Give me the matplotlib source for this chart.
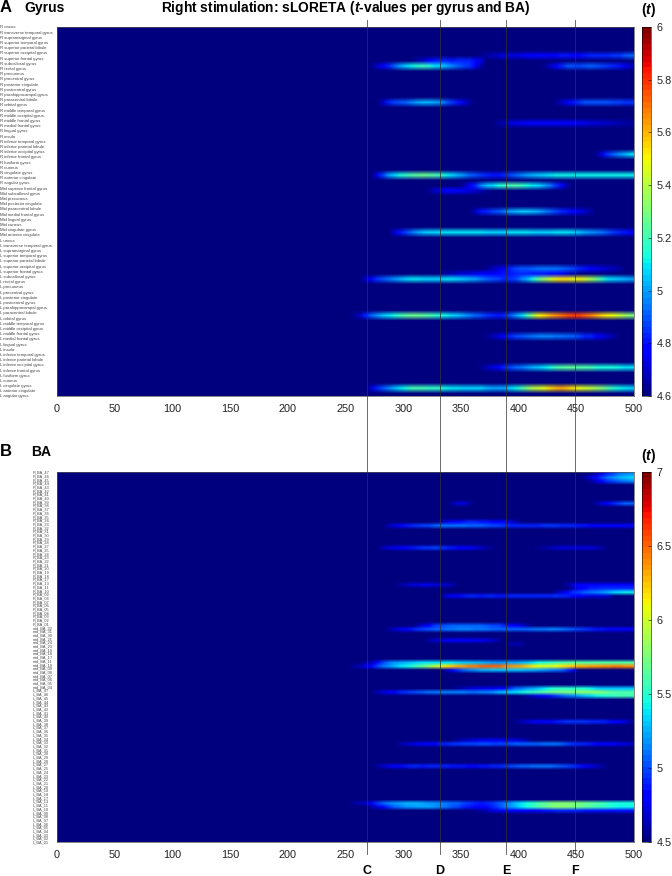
import matplotlib
matplotlib.use('Agg')
import matplotlib.pyplot as plt
import numpy as np
from matplotlib.lines import Line2D
from matplotlib.transforms import blended_transform_factory

plt.rcParams['font.family'] = ['Liberation Sans', 'DejaVu Sans']
plt.rcParams['mathtext.fontset'] = 'custom'
plt.rcParams['mathtext.bf'] = 'Liberation Sans:bold'
plt.rcParams['mathtext.bfit'] = 'Liberation Sans:italic:bold'

W, H = 672, 876

# labels
regions = ['uncus', 'transverse temporal gyrus', 'supramarginal gyrus', 'superior temporal gyrus',
           'superior parietal lobule', 'superior occipital gyrus', 'superior frontal gyrus', 'subcallosal gyrus',
           'rectal gyrus', 'precuneus', 'precentral gyrus', 'posterior cingulate', 'postcentral gyrus',
           'parahippocampal gyrus', 'paracentral lobule', 'orbital gyrus', 'middle temporal gyrus',
           'middle occipital gyrus', 'middle frontal gyrus', 'medial frontal gyrus', 'lingual gyrus', 'insula',
           'inferior temporal gyrus', 'inferior parietal lobule', 'inferior occipital gyrus', 'inferior frontal gyrus',
           'fusiform gyrus', 'cuneus', 'cingulate gyrus', 'anterior cingulate', 'angular gyrus']
mid_regions = ['superior frontal gyrus', 'subcallosal gyrus', 'precuneus', 'posterior cingulate', 'paracentral lobule',
               'medial frontal gyrus', 'lingual gyrus', 'cuneus', 'cingulate gyrus', 'anterior cingulate']
ba_side = [47, 46, 45, 44, 43, 42, 41, 40, 39, 38, 37, 36, 35, 34, 33, 32, 31, 30, 29, 28, 27, 25, 24, 23, 22, 21,
           20, 19, 18, 17, 13, 11, 10, 9, 8, 7, 6, 5, 4, 3, 2, 1]
ba_mid = [32, 31, 30, 25, 24, 23, 19, 18, 17, 11, 10, 9, 8, 7, 6, 5, 4]

gyrus_labels = ['R ' + r for r in regions] + ['Mid ' + r for r in mid_regions] + ['L ' + r for r in regions]
ba_labels = (['R_BA_%02d' % b for b in ba_side] + ['mid_BA_%02d' % b for b in ba_mid]
             + ['L_BA_%02d' % b for b in ba_side])

xticks_ms = [0, 50, 100, 150, 200, 250, 300, 350, 400, 450, 500]
gyrus_cticks = [4.6, 4.8, 5, 5.2, 5.4, 5.6, 5.8, 6]
ba_cticks = [4.5, 5, 5.5, 6, 6.5, 7]
marker_ms = [269, 332, 389, 449]
marker_names = ['C', 'D', 'E', 'F']

# panel A, t-values read every 5 ms from the colours
a_r5 = [4.62, 4.64, 4.66, 4.68, 4.7, 4.72, 4.73, 4.72, 4.74, 4.76, 4.78, 4.79, 4.78, 4.77, 4.78, 4.8, 4.8, 4.79, 4.78,
        4.8, 4.82, 4.82, 4.83, 4.84, 4.85, 4.86, 4.9, 4.92]
a_r6 = [4.62, 4.66, 4.7, 4.76, 4.8, 4.82, 4.82, 4.8, 4.82, 4.83, 4.82, 4.78, 4.72]
a_r7 = [4.64, 4.7, 4.76, 4.84, 4.92, 5.0, 5.06, 5.12, 5.16, 5.18, 5.16, 5.1, 5.08, 5.02, 4.96, 4.92, 4.88, 4.86, 4.76,
        4.66]
a_r7b = [4.64, 4.7, 4.78, 4.84, 4.9, 4.9, 4.88, 4.9, 4.92, 4.9, 4.88, 4.86, 4.84, 4.8, 4.74, 4.7]
a_r14 = [4.7, 4.82, 4.88, 4.9, 4.92, 4.96, 5.0, 5.02, 5.02, 5.0, 4.98, 4.92, 4.86, 4.8, 4.74, 4.66]
a_r14b = [4.64, 4.7, 4.76, 4.8, 4.86, 4.9, 4.9, 4.9, 4.9, 4.9, 4.88, 4.88, 4.86, 4.86]
a_r18 = [4.62, 4.65, 4.68, 4.72, 4.74, 4.74, 4.76, 4.78, 4.78, 4.78, 4.78, 4.78, 4.78, 4.77, 4.76, 4.75, 4.74, 4.72,
         4.72, 4.7, 4.7, 4.68, 4.67, 4.66, 4.65]
a_r24 = [4.64, 4.75, 4.85, 4.92, 4.98, 5.02, 5.1]
a_r28 = [4.75, 4.88, 5.0, 5.08, 5.14, 5.18, 5.22, 5.25, 5.26, 5.25, 5.22, 5.18, 5.12, 5.08, 5.02, 4.98, 4.92, 4.9, 4.86,
         4.82, 4.8, 4.8, 4.84, 4.88, 4.92, 4.96, 5.0, 5.02, 5.05, 5.08, 5.1, 5.12, 5.12, 5.12, 5.12, 5.12, 5.12, 5.12,
         5.12, 5.12, 5.12, 5.12, 5.12, 5.12, 5.12]
a_r30 = [4.66, 4.76, 4.84, 4.96, 5.04, 5.08, 5.14, 5.18, 5.2, 5.22, 5.18, 5.14, 5.1, 5.06, 5.0, 4.94, 4.86, 4.76, 4.66]
a_r31 = [4.64, 4.7, 4.74, 4.76, 4.78, 4.76, 4.74, 4.72, 4.7, 4.68, 4.64]
a_r35 = [4.7, 4.8, 4.84, 4.88, 4.9, 4.94, 5.0, 5.02, 5.04, 5.04, 5.02, 5.0, 4.96, 4.92, 4.88, 4.84, 4.8, 4.78, 4.74, 4.7,
         4.66]
a_r39 = [4.72, 4.8, 4.88, 4.94, 5.0, 5.04, 5.06, 5.08, 5.1, 5.1, 5.1, 5.1, 5.1, 5.1, 5.1, 5.1, 5.08, 5.08, 5.08, 5.08,
         5.1, 5.1, 5.1, 5.1, 5.08, 5.08, 5.06, 5.06, 5.1, 5.1, 5.1, 5.08, 5.04, 5.0, 4.98, 4.96, 4.94, 4.9, 4.86, 4.82,
         4.8, 4.78]
a_r46 = [4.64, 4.68, 4.72, 4.74, 4.82, 4.88, 4.9, 4.9, 4.92, 4.94, 4.94, 4.94, 4.94, 4.92, 4.9, 4.88, 4.84, 4.8, 4.76,
         4.74, 4.72, 4.7, 4.68, 4.66]
a_r47 = [4.64, 4.66, 4.68, 4.7, 4.72, 4.72, 4.74, 4.76, 4.76, 4.76, 4.78, 4.8, 4.8, 4.82, 4.82, 4.82, 4.8, 4.8, 4.8,
         4.78, 4.76, 4.74, 4.7, 4.66]
a_r48 = [4.7, 4.78, 4.86, 4.9, 4.94, 4.98, 5.02, 5.06, 5.1, 5.1, 5.08, 5.06, 5.06, 5.08, 5.1, 5.1, 5.06, 5.04, 5.02, 5.0,
         4.96, 4.92, 4.9, 4.88, 4.84, 4.86, 4.88, 4.96, 5.02, 5.14, 5.26, 5.36, 5.44, 5.5, 5.54, 5.52, 5.48, 5.5, 5.44,
         5.38, 5.28, 5.18, 5.1, 5.06, 5.04, 5.02, 5.0]
a_r55 = [4.64, 4.7, 4.82, 4.92, 4.98, 5.04, 5.1, 5.14, 5.2, 5.24, 5.26, 5.26, 5.24, 5.22, 5.18, 5.14, 5.12, 5.08, 5.04,
         5.0, 4.96, 4.92, 4.9, 4.86, 4.82, 4.8, 4.84, 4.9, 4.98, 5.08, 5.2, 5.36, 5.5, 5.56, 5.62, 5.66, 5.7, 5.74, 5.78,
         5.76, 5.72, 5.68, 5.62, 5.56, 5.5, 5.48, 5.42, 5.36, 5.3]
a_r59 = [4.64, 4.68, 4.72, 4.76, 4.84, 4.88, 4.9, 4.92, 4.94, 4.96, 4.96, 4.96, 4.94, 4.94, 4.92, 4.92, 4.88, 4.84, 4.82,
         4.78, 4.74, 4.7, 4.66]
a_r65 = [4.64, 4.68, 4.72, 4.76, 4.84, 4.88, 4.92, 4.94, 4.98, 5.02, 5.04, 5.1, 5.14, 5.2, 5.22, 5.24, 5.24, 5.22, 5.22,
         5.2, 5.16, 5.14, 5.14, 5.14, 5.12, 5.1, 5.1]
a_r69 = [4.72, 4.82, 4.9, 4.96, 5.02, 5.1, 5.14, 5.2, 5.2, 5.2, 5.18, 5.18, 5.16, 5.12, 5.1, 5.1, 5.08, 5.08, 5.06, 5.06,
         5.02, 5.0, 5.0, 5.0, 5.06, 5.12, 5.2, 5.3, 5.4, 5.44, 5.48, 5.56, 5.6, 5.62, 5.58, 5.52, 5.48, 5.44, 5.42, 5.36,
         5.3, 5.22, 5.16, 5.12, 5.1, 5.06]

# panel B
b_r0 = [4.55, 4.65, 4.75, 4.9, 5.0, 5.1, 5.15, 5.2]
b_r1 = [4.6, 4.72, 4.85, 5.0, 5.1, 5.2, 5.25, 5.3, 5.35]
b_r2 = [4.55, 4.7, 4.8, 4.95, 5.0, 5.05, 5.1, 5.15]
b_r8a = [4.6, 4.7, 4.7, 4.6]
b_r8 = [4.6, 4.75, 4.8, 4.9, 5.0, 5.05, 5.05]
b_r13 = [4.62, 4.72, 4.8, 4.85, 4.88, 4.9, 4.9, 4.88, 4.86, 4.84, 4.8, 4.78, 4.72, 4.62]
b_r14 = [4.62, 4.72, 4.8, 4.88, 4.92, 4.96, 4.98, 5.0, 5.05, 5.1, 5.1, 5.1, 5.1, 5.1, 5.08, 5.06, 5.05, 5.02, 5.0, 4.98,
         4.95, 4.92, 4.9, 4.9, 4.9, 4.9, 4.92, 4.94, 4.95, 4.94, 4.92, 4.9, 4.9, 4.88, 4.86, 4.85, 4.85, 4.85, 4.85, 4.85,
         4.85, 4.85, 4.85]
b_r20 = [4.62, 4.7, 4.75, 4.78, 4.82, 4.86, 4.9, 4.94, 4.96, 4.98, 4.96, 4.92, 4.88, 4.84, 4.82, 4.78, 4.72, 4.66, 4.6,
         4.56]
b_r20a = [4.56, 4.6, 4.62, 4.66, 4.7, 4.72, 4.72, 4.72, 4.72, 4.7, 4.66, 4.6]
b_r30 = [4.58, 4.64, 4.7, 4.72, 4.74, 4.74, 4.72, 4.72, 4.68, 4.62]
b_r30a = [4.6, 4.7, 4.78, 4.82, 4.84, 4.85, 4.85, 4.85, 4.85, 4.85, 4.85, 4.85]
b_r31 = [4.65, 4.8, 4.85, 4.9, 4.92, 4.95, 4.95, 4.95, 4.95, 4.95, 4.95]
b_r32 = [4.6, 4.7, 4.85, 4.95, 5.0, 5.05, 5.1, 5.15, 5.2, 5.25, 5.35, 5.38, 5.4, 5.4]
b_r33 = [4.7, 4.8, 4.84, 4.88, 4.9, 4.9, 4.88, 4.9, 4.9, 4.86, 4.88, 4.9, 4.9, 4.9, 4.9, 4.9, 4.9, 4.92, 4.92, 4.94, 4.92,
         4.9, 4.85, 4.8, 4.75, 4.72, 4.72, 4.7, 4.68]
b_r41 = [4.6, 4.72, 4.85, 4.95, 5.0, 5.02, 5.05, 5.05, 5.05, 5.05, 5.05, 5.05, 5.02, 5.0, 4.98, 4.92, 4.85, 4.78, 4.7, 4.6]
b_r42 = [4.6, 4.68, 4.74, 4.82, 4.88, 4.94, 5.0, 5.04, 5.05, 5.08, 5.1, 5.12, 5.14, 5.14, 5.14, 5.12, 5.1, 5.1, 5.08, 5.06,
         5.06, 5.05, 5.05, 5.06, 5.08, 5.1, 5.12, 5.12, 5.14, 5.14, 5.1, 5.06, 5.02, 4.98, 4.94, 4.9, 4.88, 4.86, 4.84,
         4.82, 4.82, 4.8, 4.8]
b_r45 = [4.6, 4.68, 4.74, 4.76, 4.78, 4.8, 4.8, 4.78, 4.76, 4.74, 4.72, 4.68, 4.6]
b_r46 = [4.6, 4.62, 4.58]
b_r51 = [4.58, 4.65, 4.8, 5.0, 5.1, 5.18, 5.24, 5.28, 5.3, 5.34, 5.36, 5.38, 5.38, 5.38, 5.36, 5.36, 5.34, 5.32, 5.3, 5.28,
         5.26, 5.22, 5.2, 5.2, 5.2, 5.22, 5.24, 5.28, 5.32, 5.38, 5.44, 5.48, 5.52, 5.56, 5.6, 5.62, 5.64, 5.64, 5.62, 5.62,
         5.62, 5.62, 5.62, 5.6, 5.62, 5.62, 5.62]
b_r52 = [4.58, 4.65, 4.75, 4.85, 5.0, 5.1, 5.2, 5.28, 5.36, 5.42, 5.5, 5.6, 5.7, 5.8, 5.95, 6.05, 6.15, 6.25, 6.3, 6.35,
         6.42, 6.45, 6.5, 6.52, 6.52, 6.5, 6.45, 6.4, 6.35, 6.3, 6.22, 6.15, 6.1, 6.05, 6.05, 6.1, 6.15, 6.2, 6.25, 6.3, 6.3,
         6.35, 6.35, 6.38, 6.4, 6.42, 6.42, 6.4, 6.4]
b_r53 = [4.62, 4.78, 4.95, 5.05, 5.15, 5.2, 5.25, 5.28, 5.3, 5.32, 5.32, 5.3, 5.3, 5.3, 5.28, 5.26, 5.22, 5.2, 5.15, 5.1,
         5.05, 4.95, 4.75]
b_r58 = [4.6, 4.64, 4.68, 4.7, 4.72, 4.74, 4.76, 4.8, 4.85, 4.95, 5.05, 5.12, 5.18, 5.24, 5.3, 5.38, 5.45, 5.5, 5.55, 5.5,
         5.5, 5.48, 5.45, 5.4, 5.35, 5.3, 5.3, 5.3, 5.3, 5.3, 5.3]
b_r59 = [4.62, 4.7, 4.8, 4.85, 4.9, 4.94, 4.98, 5.02, 5.08, 5.1, 5.12, 5.14, 5.14, 5.14, 5.14, 5.14, 5.12, 5.12, 5.14, 5.16,
         5.2, 5.26, 5.3, 5.34, 5.38, 5.42, 5.5, 5.55, 5.6, 5.65, 5.7, 5.72, 5.74, 5.76, 5.78, 5.8, 5.82, 5.82, 5.8, 5.75, 5.7,
         5.65, 5.6, 5.6, 5.6]
b_r60 = [4.6, 4.68, 4.74, 4.8, 4.86, 4.95, 5.02, 5.1, 5.15, 5.22, 5.3, 5.35, 5.4, 5.45, 5.5, 5.55, 5.58, 5.58, 5.58]
b_r67 = [4.56, 4.62, 4.7, 4.75, 4.8, 4.82, 4.85, 4.88, 4.9, 4.94, 4.96, 4.94, 4.94, 4.92, 4.92, 4.9, 4.88, 4.84, 4.78, 4.7,
         4.6]
b_r72 = [4.58, 4.62, 4.68, 4.72, 4.75, 4.76, 4.76, 4.75, 4.74, 4.72, 4.7, 4.66, 4.6]
b_r73 = [4.6, 4.66, 4.7, 4.74, 4.78, 4.82, 4.84, 4.9, 4.92, 4.94, 4.96, 4.98, 4.98, 5.0, 5.02, 5.02, 5.0, 5.0, 5.0, 5.04,
         5.05, 5.06, 5.08, 5.08, 5.08, 5.1, 5.1, 5.1, 5.05, 5.0, 4.96, 4.92, 4.9, 4.88, 4.85, 4.82, 4.8, 4.78, 4.76, 4.72,
         4.66]
b_r79 = [4.58, 4.68, 4.74, 4.78, 4.84, 4.88, 4.9, 4.9, 4.88, 4.9, 4.92, 4.92, 4.9, 4.88, 4.88, 4.86, 4.84, 4.84, 4.86, 4.88,
         4.9, 4.92, 4.95, 4.98, 5.02, 5.05, 5.08, 5.1, 5.12, 5.12, 5.1, 5.06, 5.02, 4.98, 4.94, 4.88, 4.82, 4.74, 4.66, 4.6]
b_r89 = [4.58, 4.62, 4.68, 4.8, 4.95, 5.05, 5.15, 5.2, 5.22, 5.25, 5.25, 5.25, 5.24, 5.2, 5.18, 5.14, 5.12, 5.08, 5.05, 5.0,
         4.95, 4.9, 4.88, 4.9, 4.95, 5.02, 5.1, 5.18, 5.3, 5.38, 5.44, 5.5, 5.6, 5.66, 5.72, 5.76, 5.78, 5.78, 5.78, 5.74,
         5.7, 5.66, 5.6, 5.56, 5.5, 5.45, 5.44, 5.44, 5.44]
b_r90 = [4.6, 4.7, 4.85, 4.95, 5.05, 5.12, 5.18, 5.2, 5.22, 5.22, 5.22, 5.2, 5.15, 5.1, 5.04, 4.98, 4.92, 4.86, 4.82, 4.8,
         4.85, 4.92, 5.0, 5.1, 5.2, 5.28, 5.36, 5.44, 5.52, 5.6, 5.66, 5.72, 5.78, 5.78, 5.78, 5.72, 5.68, 5.64, 5.6, 5.56,
         5.52, 5.48, 5.44, 5.42, 5.42, 5.42]
b_r91 = [4.56, 4.6, 4.64, 4.7, 4.76, 4.82, 4.85, 4.85, 4.82, 4.84, 4.85, 4.85, 4.86, 4.88, 4.9, 4.92, 4.92, 4.92, 4.9, 4.88,
         4.86, 4.86, 4.86, 4.86, 4.86, 4.86, 4.86, 4.86]

# (row, first ms, values)
gyrus_bands = [(5, 360, a_r5), (6, 305, a_r6), (7, 270, a_r7), (7, 420, a_r7b), (14, 280, a_r14), (14, 430, a_r14b),
               (18, 375, a_r18), (24, 465, a_r24), (28, 275, a_r28), (30, 350, a_r30), (31, 320, a_r31),
               (35, 360, a_r35), (39, 290, a_r39), (46, 370, a_r46), (47, 330, a_r47), (48, 265, a_r48),
               (55, 255, a_r55), (59, 370, a_r59), (65, 365, a_r65), (69, 270, a_r69)]
ba_bands = [(0, 460, b_r0), (1, 455, b_r1), (2, 460, b_r2), (8, 340, b_r8a), (8, 465, b_r8), (13, 330, b_r13),
            (14, 285, b_r14), (20, 280, b_r20), (20, 415, b_r20a), (30, 295, b_r30), (30, 440, b_r30a),
            (31, 445, b_r31), (32, 430, b_r32), (33, 335, b_r33), (41, 310, b_r41), (42, 285, b_r42), (45, 320, b_r45),
            (46, 390, b_r46), (51, 265, b_r51), (52, 255, b_r52), (53, 335, b_r53), (58, 345, b_r58), (59, 275, b_r59),
            (60, 405, b_r60), (67, 395, b_r67), (72, 345, b_r72), (73, 295, b_r73), (79, 275, b_r79), (89, 255, b_r89),
            (90, 270, b_r90), (91, 360, b_r91)]


def px_axes(fig, left, top, right, bottom):
    return fig.add_axes([left / W, 1 - bottom / H, (right - left) / W, (bottom - top) / H])


def make_grid(n_rows, bands, low):
    grid = np.full((n_rows, 100), low, dtype=float)
    for row, start, values in bands:
        col = start // 5
        grid[row, col:col + len(values)] = values
    return grid


def heatmap(fig, top, bottom, labels, bands, low, high, cticks, label_left, label_size):
    ax = px_axes(fig, 57, top, 634, bottom)
    n_rows = len(labels) - 1  # last label has no row, as in pcolor
    grid = make_grid(n_rows, bands, low)
    # bilinear in rgba gives the soft edges of the scanned figure
    mesh = ax.imshow(grid, cmap=plt.get_cmap('jet', 64), vmin=low, vmax=high, aspect='auto',
                     extent=[0, 500, n_rows, 0], interpolation='bilinear', interpolation_stage='rgba')
    ax.set_xlim(0, 500)
    ax.set_ylim(n_rows, 0)
    ax.set_xticks(xticks_ms)
    ax.set_xticklabels([str(t) for t in xticks_ms], fontsize=7.8, color='#222222')
    ax.tick_params(axis='x', length=0, pad=6)
    ax.set_yticks(np.arange(len(labels)))
    ax.set_yticklabels(labels, fontsize=label_size, color='#444444', ha='left')
    ax.tick_params(axis='y', length=0, pad=(57 - label_left) * 0.72)
    for s in ax.spines.values():
        s.set_linewidth(0.5)
        s.set_color('#555555')

    cax = px_axes(fig, 642, top, 651, bottom)
    cb = fig.colorbar(mesh, cax=cax)
    cb.set_ticks(cticks)
    cb.set_ticklabels(['%g' % t for t in cticks], fontsize=7.8, color='#222222')
    cax.tick_params(axis='y', direction='in', length=2, width=0.4, pad=4, right=True)
    cb.outline.set_linewidth(0.4)
    return ax


fig = plt.figure(figsize=(W / 100, H / 100), dpi=100)

ax_a = heatmap(fig, 27, 396, gyrus_labels, gyrus_bands, 4.6, 6, gyrus_cticks, 0, 3.05)
ax_b = heatmap(fig, 472, 842, ba_labels, ba_bands, 4.5, 7, ba_cticks, 33, 2.8)


def fig_text(x, y, s, **kw):
    fig.text(x / W, 1 - y / H, s, va='center', **kw)


fig_text(0, 7, 'A', fontsize=12, fontweight='bold', ha='left')
fig_text(24, 8, 'Gyrus', fontsize=10, fontweight='bold', ha='left')
fig_text(161, 8, r'Right stimulation: sLORETA ($\bfit{t}$-values per gyrus and BA)', fontsize=9.9, fontweight='bold',
         ha='left')
fig_text(641, 10, r'($\bfit{t}$)', fontsize=10, fontweight='bold', ha='left')
fig_text(0, 452, 'B', fontsize=12, fontweight='bold', ha='left')
fig_text(31, 452, 'BA', fontsize=10, fontweight='bold', ha='left')
fig_text(641, 456, r'($\bfit{t}$)', fontsize=10, fontweight='bold', ha='left')

# C D E F latency lines run through both panels
trans = blended_transform_factory(ax_a.transData, fig.transFigure)
for ms, name in zip(marker_ms, marker_names):
    fig.add_artist(Line2D([ms, ms], [1 - 20 / H, 1 - 854 / H], transform=trans, color='#333333', lw=0.6, alpha=0.85))
    fig.text(ms, 1 - 870.5 / H, name, transform=trans, fontsize=9, fontweight='bold', ha='center', va='center')

fig.savefig('out.png', dpi=100)
